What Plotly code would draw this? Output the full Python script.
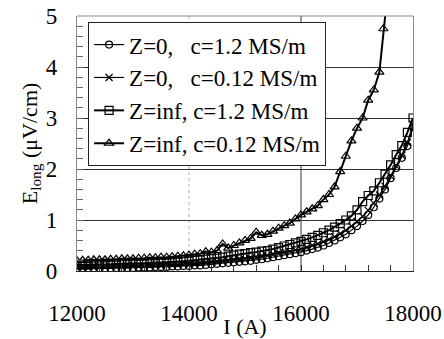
import plotly.graph_objects as go

current_A = [12000, 12100, 12200, 12300, 12400, 12500, 12600, 12700, 12800, 12900,
             13000, 13100, 13200, 13300, 13400, 13500, 13600, 13700, 13800, 13900,
             14000, 14100, 14200, 14300, 14400, 14500, 14600, 14700, 14800, 14900,
             15000, 15100, 15200, 15300, 15400, 15500, 15600, 15700, 15800, 15900,
             16000, 16100, 16200, 16300, 16400, 16500, 16600, 16700, 16800, 16900,
             17000, 17100, 17200, 17300, 17400, 17500, 17600, 17700, 17800, 17900,
             18000]

z0_c12 = [0.04, 0.04, 0.04, 0.05, 0.05, 0.05, 0.05, 0.06, 0.06, 0.06,
          0.06, 0.07, 0.07, 0.07, 0.08, 0.08, 0.08, 0.09, 0.09, 0.10,
          0.10, 0.11, 0.11, 0.12, 0.13, 0.14, 0.15, 0.16, 0.17, 0.18,
          0.19, 0.20, 0.22, 0.23, 0.25, 0.27, 0.29, 0.31, 0.33, 0.35,
          0.37, 0.40, 0.43, 0.46, 0.50, 0.55, 0.60, 0.66, 0.72, 0.80,
          0.88, 0.98, 1.10, 1.25, 1.42, 1.60, 1.82, 2.02, 2.22, 2.45,
          2.82]

z0_c012 = [0.07, 0.07, 0.07, 0.08, 0.08, 0.08, 0.08, 0.09, 0.09, 0.09,
           0.10, 0.10, 0.10, 0.11, 0.11, 0.11, 0.12, 0.12, 0.12, 0.13,
           0.13, 0.14, 0.15, 0.16, 0.17, 0.18, 0.19, 0.20, 0.21, 0.22,
           0.23, 0.25, 0.26, 0.28, 0.30, 0.32, 0.34, 0.36, 0.38, 0.41,
           0.43, 0.46, 0.50, 0.53, 0.57, 0.62, 0.67, 0.73, 0.80, 0.88,
           0.97, 1.07, 1.19, 1.33, 1.49, 1.66, 1.86, 2.06, 2.27, 2.52,
           2.88]

zinf_c12 = [0.12, 0.12, 0.12, 0.13, 0.13, 0.13, 0.13, 0.14, 0.14, 0.14,
            0.15, 0.15, 0.15, 0.16, 0.16, 0.17, 0.17, 0.18, 0.18, 0.19,
            0.20, 0.21, 0.22, 0.23, 0.24, 0.25, 0.27, 0.29, 0.31, 0.33,
            0.34, 0.36, 0.37, 0.39, 0.40, 0.43, 0.46, 0.49, 0.52, 0.55,
            0.58, 0.62, 0.66, 0.70, 0.75, 0.80, 0.86, 0.93, 1.00, 1.08,
            1.20, 1.36, 1.48, 1.57, 1.73, 1.90, 2.08, 2.28, 2.46, 2.72,
            3.00]

current_A_tri = [12000, 12100, 12200, 12300, 12400, 12500, 12600, 12700, 12800, 12900,
                 13000, 13100, 13200, 13300, 13400, 13500, 13600, 13700, 13800, 13900,
                 14000, 14100, 14200, 14300, 14400, 14500, 14600, 14700, 14800, 14900,
                 15000, 15100, 15200, 15300, 15400, 15500, 15600, 15700, 15800, 15900,
                 16000, 16100, 16200, 16300, 16400, 16500, 16600, 16700, 16800, 16900,
                 17000, 17100, 17200, 17300, 17400, 17470, 17560]

zinf_c012 = [0.20, 0.21, 0.21, 0.22, 0.22, 0.22, 0.23, 0.23, 0.24, 0.24,
             0.24, 0.25, 0.25, 0.26, 0.26, 0.27, 0.27, 0.28, 0.29, 0.30,
             0.31, 0.33, 0.34, 0.38, 0.37, 0.40, 0.53, 0.45, 0.50, 0.55,
             0.60, 0.64, 0.76, 0.70, 0.72, 0.78, 0.84, 0.89, 0.94, 1.02,
             1.10, 1.16, 1.22, 1.28, 1.40, 1.50, 1.65, 1.95, 2.25, 2.55,
             2.80, 3.00, 3.35, 3.55, 3.90, 4.75, 5.60]

series_names = ["Z=0,\u00a0\u00a0\u00a0c=1.2 MS/m",
                "Z=0,\u00a0\u00a0\u00a0c=0.12 MS/m",
                "Z=inf, c=1.2 MS/m",
                "Z=inf, c=0.12 MS/m"]

x_ticks = [12000, 14000, 16000, 18000]
y_ticks = [0, 1, 2, 3, 4, 5]
dotted_grid_x = [14000]
solid_grid_x = [16000]

FONT = "Liberation Serif"

fig = go.Figure()
specs = [
    (current_A, z0_c12, "circle-open", 1.2, 7),
    (current_A, z0_c012, "x-thin-open", 1.2, 7),
    (current_A, zinf_c12, "square-open", 2.0, 8),
    (current_A_tri, zinf_c012, "triangle-up-open", 2.0, 8),
]
for i, (xs, ys, sym, lw, ms) in enumerate(specs):
    fig.add_trace(go.Scatter(
        x=xs, y=ys, mode="lines+markers", name=series_names[i],
        legendgroup=str(i),
        line=dict(color="black", width=lw),
        marker=dict(symbol=sym, size=ms, color="black",
                    line=dict(color="black", width=1.2)),
    ))

for gx in dotted_grid_x:
    fig.add_shape(type="line", xref="x", yref="paper", x0=gx, x1=gx, y0=0, y1=1,
                  line=dict(color="#b0b0b0", width=1, dash="dot"), layer="below")
for gx in solid_grid_x:
    fig.add_shape(type="line", xref="x", yref="paper", x0=gx, x1=gx, y0=0, y1=1,
                  line=dict(color="#333333", width=1), layer="below")
fig.add_shape(type="line", xref="paper", yref="paper", x0=0, x1=1, y0=1, y1=1,
              line=dict(color="#8a8a8a", width=1.2))

fig.update_layout(
    width=444, height=339,
    margin=dict(l=77, r=31, t=16, b=68, autoexpand=False),
    paper_bgcolor="white", plot_bgcolor="white",
    font=dict(family=FONT, size=23, color="black"),
    showlegend=True,
    legend=dict(x=0.033, y=0.976, xanchor="left", yanchor="top",
                bgcolor="white", bordercolor="#222222", borderwidth=1,
                font=dict(family=FONT, size=23, color="black"),
                tracegroupgap=0, traceorder="grouped"),
    xaxis=dict(range=[12000, 18000], tickvals=x_ticks,
               ticktext=[str(v) for v in x_ticks], automargin=False,
               showgrid=False, zeroline=False,
               showline=True, linecolor="#222222", linewidth=1.2,
               ticks="inside", ticklen=6, tickcolor="#333333",
               minor=dict(dtick=400, tick0=12000, ticks="inside", ticklen=6,
                          tickcolor="#333333", showgrid=False),
               ticklabelstandoff=21,
               tickfont=dict(family=FONT, size=23),
               title=dict(text="I (A)", standoff=1,
                          font=dict(family=FONT, size=22))),
    yaxis=dict(range=[0, 5], tickvals=y_ticks,
               ticktext=[str(v) for v in y_ticks], automargin=False,
               showgrid=True, gridcolor="#333333", gridwidth=1,
               zeroline=False,
               showline=True, linecolor="#8a8a8a", linewidth=1.2, mirror=True,
               ticks="inside", ticklen=6, tickcolor="#666666",
               minor=dict(dtick=0.2, ticks="inside", ticklen=6,
                          tickcolor="#666666", showgrid=False),
               ticklabelstandoff=14,
               tickfont=dict(family=FONT, size=23),
               title=dict(text="E<sub>long</sub> (\u03bcV/cm)", standoff=2,
                          font=dict(family=FONT, size=22))),
)

fig.write_html("out.html", config={"displayModeBar": False},
               post_script="document.body.style.margin='0';document.body.style.padding='0';")
